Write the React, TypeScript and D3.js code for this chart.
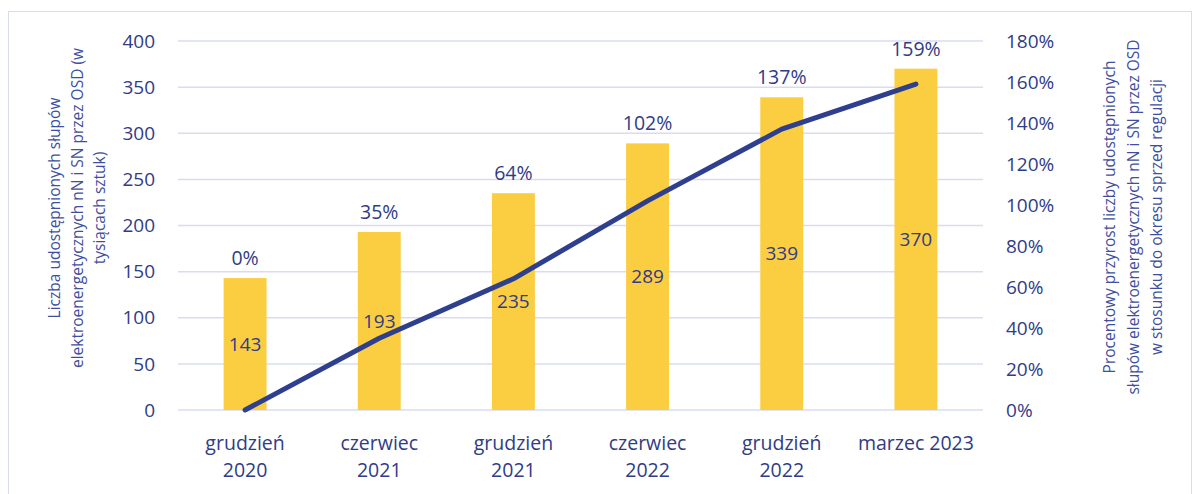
import React from 'react';
import * as d3 from 'd3';

// chart data
const categories = [
  ['grudzień', '2020'],
  ['czerwiec', '2021'],
  ['grudzień', '2021'],
  ['czerwiec', '2022'],
  ['grudzień', '2022'],
  ['marzec 2023'],
];
const counts = [143, 193, 235, 289, 339, 370];
const growth = [0, 35, 64, 102, 137, 159];
const leftTicks = [0, 50, 100, 150, 200, 250, 300, 350, 400];
const rightTicks = [0, 20, 40, 60, 80, 100, 120, 140, 160, 180];
const leftTitle = [
  'Liczba udostępnionych słupów',
  'elektroenergetycznych nN i SN przez OSD (w',
  'tysiącach sztuk)',
];
const rightTitle = [
  'Procentowy przyrost liczby udostępnionych',
  'słupów elektroenergetycznych nN i SN przez OSD',
  'w stosunku do okresu sprzed regulacji',
];

const W = 1194;
const H = 494;
const margin = { left: 178, right: 211, top: 41, bottom: 84 };
const textColor = '#2f3c87';
const font = '"Open Sans", sans-serif';

export default function App() {
  const x = d3
    .scaleBand<number>()
    .domain(d3.range(categories.length))
    .range([margin.left, W - margin.right])
    .paddingInner(0.68)
    .paddingOuter(0.34);
  const y = d3.scaleLinear().domain([0, 400]).range([H - margin.bottom, margin.top]);
  const y2 = d3.scaleLinear().domain([0, 180]).range([H - margin.bottom, margin.top]);
  const cx = (i: number) => (x(i) as number) + x.bandwidth() / 2;

  const line = d3
    .line<number>()
    .x((d, i) => cx(i))
    .y((d) => y2(d));

  return (
    <svg
      width={W}
      height={H}
      style={{ position: 'absolute', left: 0, top: 0, fontFamily: font }}
    >
      <rect x={8.5} y={11.5} width={1183} height={500} fill="white" stroke="#d9dcf0" />

      {/* grid */}
      {leftTicks.map((t) => (
        <line
          key={t}
          x1={margin.left}
          x2={W - margin.right}
          y1={y(t)}
          y2={y(t)}
          stroke="#d9dcf0"
          strokeWidth={1.5}
        />
      ))}

      {/* left axis labels */}
      {leftTicks.map((t) => (
        <text key={t} x={155} y={y(t)} dy="0.35em" textAnchor="end" fontSize={19} fill={textColor}>
          {t}
        </text>
      ))}

      {/* right axis labels */}
      {rightTicks.map((t) => (
        <text key={t} x={1006} y={y2(t)} dy="0.35em" textAnchor="start" fontSize={19} fill={textColor}>
          {t}%
        </text>
      ))}

      {/* bars */}
      {counts.map((v, i) => (
        <rect
          key={i}
          x={x(i)}
          y={y(v)}
          width={x.bandwidth()}
          height={y(0) - y(v)}
          fill="#fbcd41"
        />
      ))}

      {/* growth line */}
      <path
        d={line(growth) as string}
        fill="none"
        stroke="#2e3f8f"
        strokeWidth={5}
        strokeLinecap="round"
        strokeLinejoin="round"
      />

      {/* bar value labels */}
      {counts.map((v, i) => (
        <text
          key={i}
          x={cx(i)}
          y={(y(v) + y(0)) / 2}
          dy="0.35em"
          textAnchor="middle"
          fontSize={19}
          fill={textColor}
        >
          {v}
        </text>
      ))}

      {/* percent labels above bars */}
      {growth.map((g, i) => (
        <text
          key={i}
          x={cx(i)}
          y={y(counts[i]) - 20}
          dy="0.35em"
          textAnchor="middle"
          fontSize={19.5}
          fill={textColor}
        >
          {g}%
        </text>
      ))}

      {/* x labels */}
      {categories.map((c, i) => (
        <text key={i} x={cx(i)} y={443} textAnchor="middle" fontSize={19.5} fill={textColor}>
          {c.map((s, j) => (
            <tspan key={j} x={cx(i)} dy={j === 0 ? '0.35em' : 27}>
              {s}
            </tspan>
          ))}
        </text>
      ))}

      {/* left title */}
      <text
        transform={`translate(55,208) rotate(-90)`}
        textAnchor="middle"
        fontSize={15.5}
        fill="#3e4fa0"
      >
        {leftTitle.map((s, j) => (
          <tspan key={j} x={0} y={j * 22.5} dy="0.35em">
            {s}
          </tspan>
        ))}
      </text>

      {/* right title */}
      <text
        transform={`translate(1110,217) rotate(-90)`}
        textAnchor="middle"
        fontSize={15.5}
        fill="#3e4fa0"
      >
        {rightTitle.map((s, j) => (
          <tspan key={j} x={0} y={j * 23.5} dy="0.35em">
            {s}
          </tspan>
        ))}
      </text>
    </svg>
  );
}
